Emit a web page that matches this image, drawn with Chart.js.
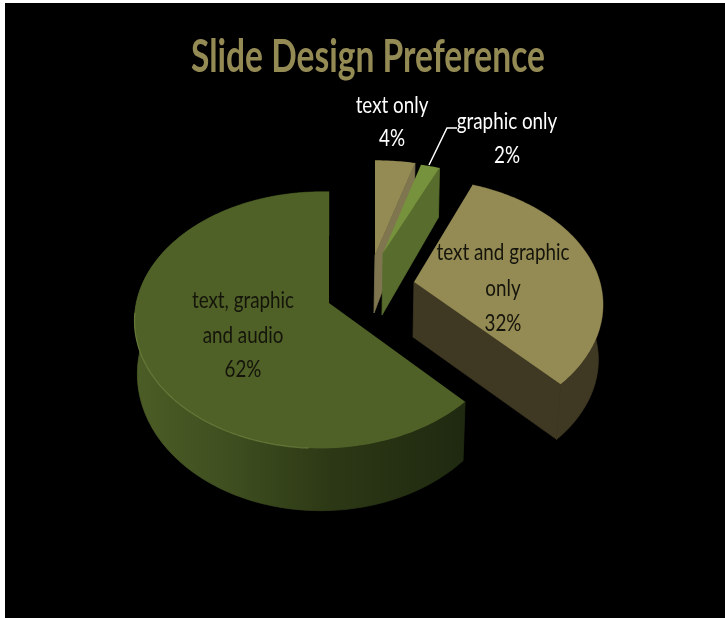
<!DOCTYPE html>
<html>
<head>
<meta charset="utf-8">
<script src="https://cdn.jsdelivr.net/npm/chart.js@4"></script>
<style>
  html, body { margin: 0; padding: 0; background: #fff; overflow: hidden; }
  #myChart { position: absolute; left: 5px; top: 3px; }
</style>
</head>
<body>
<canvas id="myChart" width="720" height="615"></canvas>
<script>
let categories = ['text only', 'graphic only', 'text and graphic only', 'text, graphic and audio'];
let values = [4, 2, 32, 62];
let wrapped = [['text only'], ['graphic only'], ['text and graphic', 'only'], ['text, graphic', 'and audio']];
let titleText = 'Slide Design Preference';

// how each exploded slice sits on the tilted plane (canvas px, canvas starts at 5,3)
let views = [
  { x: 370, y: 252, rx: 181, ry: 107, k: .13, m: 0, dx: -1, depth: 58, bx: 1, by: 1.15, top: '#948a54', side: '#7f7650', wall: false, face: true },
  { x: 378, y: 250, rx: 172, ry: 102.6, k: .13, m: 0, dx: -1, depth: 62, bx: 1, by: 1.15, top: '#76923c', side: '#586d2d', wall: false, face: true },
  { x: 409, y: 279, rx: 186, ry: 122, k: .18, m: 0, dx: -1, depth: 55, bx: .98, by: 1, top: '#948a54', side: '#3f3823', wall: true, face: true },
  { x: 324, y: 300, rx: 185, ry: 126, k: .133, m: .04, dx: 0, depth: 52, bx: .985, by: 1.07, top: '#4f6127', side: null, wall: true, face: false, rim: 'rgba(150,170,90,.4)' }
];
let labelSpots = [
  { x: 387, y: 102, gap: 33, color: '#fff' },
  { x: 502, y: 118, gap: 34, color: '#fff' },
  { x: 498, y: 249, gap: 35.5, color: '#14140a' },
  { x: 238, y: 297, gap: 34.5, color: '#14140a' }
];
let leader = [[424, 162], [442, 125], [452, 125]];
let labelFont = '24px Lato, "Open Sans", sans-serif';
let titleFont = 'bold 46px Lato, "Open Sans", sans-serif';

function proj(v, a, low) {
  let u = Math.cos(a), s = Math.sin(a);
  let w = 1 - v.k * s + v.m * u;
  let px = v.rx * u / w, py = v.ry * s / w;
  if (low) return [v.x + v.dx + px * v.bx, v.y + v.depth + py * v.by];
  return [v.x + px, v.y + py];
}

function arcPts(v, a0, a1, low) {
  let pts = [], n = Math.max(8, Math.ceil((a1 - a0) * 60));
  for (let i = 0; i <= n; i++) pts.push(proj(v, a0 + (a1 - a0) * i / n, low));
  return pts;
}

function fillPoly(ctx, pts, color, seal) {
  ctx.beginPath();
  pts.forEach((p, i) => i ? ctx.lineTo(p[0], p[1]) : ctx.moveTo(p[0], p[1]));
  ctx.closePath();
  ctx.fillStyle = color;
  ctx.fill();
  if (seal) {
    ctx.strokeStyle = color;
    ctx.lineWidth = .8;
    ctx.stroke();
  }
}

// narrow text: squeeze horizontally so a sample string takes the wanted width
function squeezed(ctx, text, x, y, sx) {
  ctx.save();
  ctx.translate(x, y);
  ctx.scale(sx, 1);
  ctx.fillText(text, 0, 0);
  ctx.restore();
}

let pie3d = {
  id: 'pie3d',
  beforeDatasetDraw(chart, args) {
    let ctx = chart.ctx;
    args.meta.data.forEach((el, i) => {
      let v = views[i];
      let a0 = el.startAngle, a1 = el.endAngle;
      let topArc = arcPts(v, a0, a1, false);
      let lowArc = arcPts(v, a0, a1, true);
      let tip = [v.x, v.y], lowTip = [v.x + v.dx, v.y + v.depth];

      if (v.wall) {
        let color = v.side;
        if (!color) {
          color = ctx.createLinearGradient(128, 0, 460, 0);
          color.addColorStop(0, '#4c5d26');
          color.addColorStop(.3, '#3e4e1f');
          color.addColorStop(.6, '#2c3815');
          color.addColorStop(1, '#1f2910');
        }
        fillPoly(ctx, topArc.concat(lowArc.slice().reverse()), color, true);
      }
      if (v.face) {
        fillPoly(ctx, [tip, topArc[topArc.length - 1], lowArc[lowArc.length - 1], lowTip], v.side, true);
      }
      fillPoly(ctx, [tip].concat(topArc), v.top);

      if (v.rim) {
        // light bevel along the front edge of the big slice
        let rim = arcPts(v, a0 + .85, a0 + 2.25, false);
        ctx.beginPath();
        rim.forEach((p, j) => j ? ctx.lineTo(p[0], p[1]) : ctx.moveTo(p[0], p[1]));
        ctx.strokeStyle = v.rim;
        ctx.lineWidth = 1.2;
        ctx.stroke();
      }
    });
    return false;
  },
  afterDraw(chart) {
    let ctx = chart.ctx;
    ctx.save();
    ctx.beginPath();
    leader.forEach((p, i) => i ? ctx.lineTo(p[0], p[1]) : ctx.moveTo(p[0], p[1]));
    ctx.strokeStyle = '#fff';
    ctx.lineWidth = 1.5;
    ctx.stroke();

    ctx.textAlign = 'center';
    ctx.textBaseline = 'alphabetic';
    ctx.fillStyle = '#948a54';
    ctx.font = titleFont;
    squeezed(ctx, titleText, 363, 69, 354 / ctx.measureText(titleText).width);

    ctx.font = labelFont;
    let sx = 133 / ctx.measureText('text and graphic').width;
    categories.forEach((c, i) => {
      let spot = labelSpots[i];
      let lines = wrapped[i].concat(values[i] + '%');
      ctx.fillStyle = spot.color;
      lines.forEach((t, j) => squeezed(ctx, t, spot.x, spot.y + 8 + j * spot.gap, sx));
    });
    ctx.restore();
  }
};

let chartBg = {
  id: 'chartBg',
  beforeDraw(chart) {
    chart.ctx.fillStyle = '#000';
    chart.ctx.fillRect(0, 0, chart.width, chart.height);
  }
};

let ctx = document.getElementById('myChart');
let myChart = new Chart(ctx, {
  type: 'pie',
  data: {
    labels: categories,
    datasets: [{ data: values, borderWidth: 0 }]
  },
  options: {
    responsive: false,
    animation: false,
    plugins: {
      legend: { display: false },
      tooltip: { enabled: false }
    }
  },
  plugins: [chartBg, pie3d]
});
</script>
</body>
</html>
